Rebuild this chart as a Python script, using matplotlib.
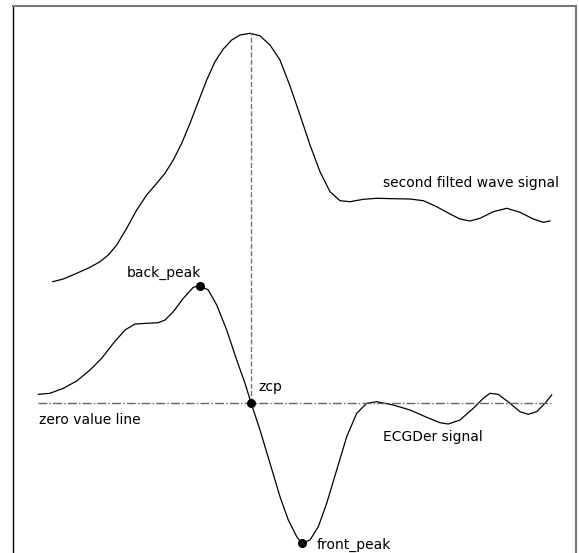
import matplotlib
matplotlib.use("Agg")
import matplotlib.pyplot as plt

# second filtered wave signal (sample index, amplitude)
wave_x = [52.7, 63.3, 76.7, 90, 100, 108.3, 116.7, 126.7, 136.7, 146.7, 156.7, 165,
          173.3, 181.7, 190, 198.3, 206.7, 215, 223.3, 231.7, 240, 250, 260, 270, 280,
          290, 300, 310, 320, 330, 340, 350, 363.3, 376.7, 393.3, 410, 423.3, 436.7,
          450, 460, 470, 480, 493.3, 506.7, 520, 533.3, 543.3, 550]
wave_y = [121.0, 123.7, 129.4, 135.4, 141.0, 147.7, 157.7, 174.4, 192.7, 207.7, 219.4,
          229.4, 242.7, 259.4, 279.4, 301.0, 322.7, 341.0, 353.7, 362.7, 367.7, 369.4,
          366.9, 357.7, 342.7, 316.7, 287.7, 257.7, 231.0, 211.0, 202.0, 201.0, 203.4,
          204.4, 204.0, 203.7, 202.0, 196.0, 188.7, 183.7, 181.7, 184.4, 191.0, 194.4,
          190.4, 183.7, 180.4, 181.7]

# ECG derivative signal
der_x = [38.3, 50, 63.3, 76.7, 90, 101.7, 113.3, 125, 135, 146.7, 158.3, 165, 173.3,
         183.3, 193.3, 200, 208.3, 216.7, 226.7, 236.7, 245, 251, 260, 270, 280, 288.3,
         296.7, 301.7, 310, 318.3, 326.7, 336.7, 346.7, 356.7, 366.7, 376.7, 393.3, 410,
         426.7, 440, 448.3, 460, 473.3, 483.3, 490, 498.3, 510, 520, 528.3, 536.7, 545,
         551.7]
der_y = [8.4, 9.4, 14.4, 21.7, 32.7, 44.4, 59.4, 72.7, 78.7, 79.4, 80.0, 82.7, 91.0,
         104.4, 115.4, 117.0, 112.7, 97.7, 72.7, 42.7, 19.4, 0.0, -27.3, -60.6, -94.0,
         -117.3, -134.0, -140.6, -137.3, -124.0, -100.6, -67.3, -34.0, -10.6, -0.6, 1.0,
         -2.3, -7.3, -14.6, -20.0, -21.3, -17.3, -5.6, 4.4, 9.4, 8.4, -0.6, -9.0, -11.6,
         -9.0, -0.6, 7.7]

# key points
back_peak = (200, 117.0)
zcp = (251, 0.0)
front_peak = (301.7, -140.6)
wave_peak = (250, 369.4)
zero_line_x = [38.3, 550.7]
zero_line_y = [0.0, 0.0]

W, H = 579, 553
fig = plt.figure(figsize=(W / 100, H / 100), dpi=100)
ax = fig.add_axes([13 / W, -7 / H, 563 / W, 554 / H])
ax.set_xlim(13, 576)
ax.set_ylim(-157.3, 396.7)

ax.plot(wave_x, wave_y, color="black", lw=0.9)
ax.plot(der_x, der_y, color="black", lw=0.9)
ax.plot(zero_line_x, zero_line_y, color="#666666", lw=1.0, ls="-.")
ax.plot([zcp[0], zcp[0]], [zcp[1], wave_peak[1]], color="#777777", lw=1.0, ls="--")

for p in (back_peak, zcp, front_peak):
    ax.plot(p[0], p[1], "o", color="black", ms=5.5)

fs = 10
ax.text(126.7, 402.7 - 273, "back_peak", fontsize=fs, ha="left", va="center")
ax.text(382.7, 402.7 - 183, "second filted wave signal", fontsize=fs, ha="left", va="center")
ax.text(258.3, 402.7 - 387, "zcp", fontsize=fs, ha="left", va="center")
ax.text(39.3, 402.7 - 420, "zero value line", fontsize=fs, ha="left", va="center")
ax.text(382.7, 402.7 - 437.5, "ECGDer signal", fontsize=fs, ha="left", va="center")
ax.text(316.7, 402.7 - 545, "front_peak", fontsize=fs, ha="left", va="center")

ax.set_xticks([])
ax.set_yticks([])
ax.spines["left"].set_color("black")
ax.spines["left"].set_linewidth(1.0)
for s in ("top", "right"):
    ax.spines[s].set_color("#777777")
    ax.spines[s].set_linewidth(1.5)
ax.spines["bottom"].set_visible(False)

fig.savefig("out.png", dpi=100)
